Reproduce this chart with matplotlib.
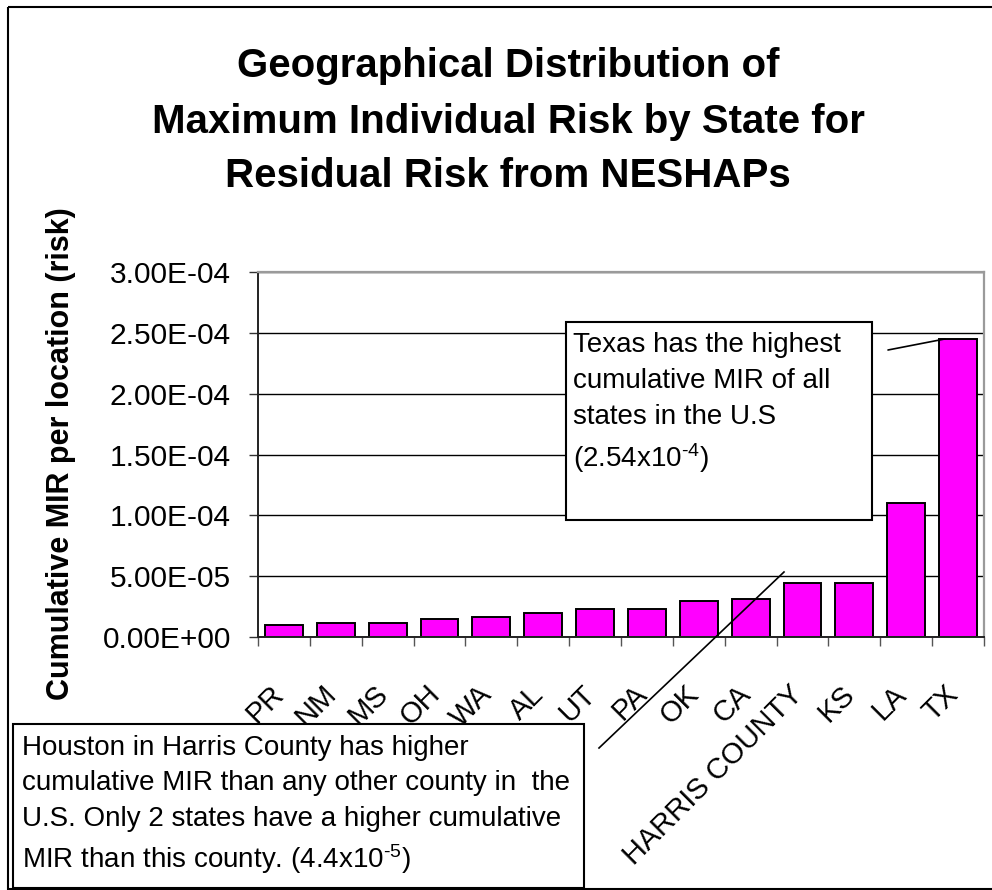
import numpy as np
import matplotlib
matplotlib.use('Agg')
import matplotlib.pyplot as plt
import matplotlib.transforms as mtransforms
from matplotlib.patches import Rectangle, ConnectionPatch
from matplotlib.lines import Line2D

# ---------------- data ----------------
categories = ['PR', 'NM', 'MS', 'OH', 'WA', 'AL', 'UT', 'PA', 'OK', 'CA',
              'HARRIS COUNTY', 'KS', 'LA', 'TX']
mir_values = [1.00e-5, 1.15e-5, 1.15e-5, 1.50e-5, 1.65e-5, 2.00e-5, 2.30e-5,
              2.30e-5, 2.95e-5, 3.10e-5, 4.40e-5, 4.40e-5, 1.10e-4, 2.45e-4]
y_ticks = [0.0, 5e-5, 1e-4, 1.5e-4, 2e-4, 2.5e-4, 3e-4]
title_lines = ['Geographical Distribution of',
               'Maximum Individual Risk by State for',
               'Residual Risk from NESHAPs']
y_label = 'Cumulative MIR per location (risk)'
texas_note = ['Texas has the highest', 'cumulative MIR of all',
              'states in the U.S', r'(2.54x10$^{\text{-4}}$)']
houston_note = ['Houston in Harris County has higher',
                'cumulative MIR than any other county in  the',
                'U.S. Only 2 states have a higher cumulative',
                r'MIR than this county. (4.4x10$^{\text{-5}}$)']

# ---------------- style ----------------
plt.rcParams['font.family'] = ['Liberation Sans', 'DejaVu Sans']
plt.rcParams['mathtext.fontset'] = 'custom'
plt.rcParams['mathtext.rm'] = 'Liberation Sans'
plt.rcParams['mathtext.it'] = 'Liberation Sans:italic'
plt.rcParams['mathtext.bf'] = 'Liberation Sans:bold'
plt.rcParams['mathtext.default'] = 'regular'

W, H = 992, 890
fig = plt.figure(figsize=(W / 100, H / 100), dpi=100)
fig.patch.set_facecolor('white')
# pixel coordinates measured from the top-left corner
px = mtransforms.Affine2D().scale(1.0 / W, -1.0 / H).translate(0, 1) + fig.transFigure

ax_l, ax_r, ax_t, ax_b = 258, 984, 272, 637
ax = fig.add_axes([ax_l / W, 1 - ax_b / H, (ax_r - ax_l) / W, (ax_b - ax_t) / H])

x = np.arange(len(categories))
ax.bar(x, mir_values, width=0.73, color='#FF00FF', edgecolor='black',
       linewidth=1.4, zorder=2)

ax.set_xlim(-0.5, len(categories) - 0.5)
ax.set_ylim(y_ticks[0], y_ticks[-1])
ax.set_yticks(y_ticks)
ax.set_yticklabels(['{:.2E}'.format(v) for v in y_ticks])
ax.tick_params(axis='y', direction='out', length=6.5, width=1.0,
               color='#333333', pad=13.0, labelsize=21.5)

ax.set_xticks(x)
ax.set_xticklabels(categories, rotation=45, ha='right', va='center',
                   rotation_mode='anchor', fontsize=21)
ax.tick_params(axis='x', which='major', length=0, pad=38)
ax.set_xticks(np.arange(-0.5, len(categories), 1.0), minor=True)
ax.tick_params(axis='x', which='minor', direction='out', length=6.5,
               width=1.0, color='#555555')
for lab in ax.get_xticklabels():
    lab.set_transform(lab.get_transform() +
                      mtransforms.ScaledTranslation(-0.04, 0, fig.dpi_scale_trans))

ax.set_axisbelow(True)
ax.yaxis.grid(True, color='black', linewidth=1.0)
ax.xaxis.grid(False)
for side in ['left', 'bottom']:
    ax.spines[side].set_color('#222222')
    ax.spines[side].set_linewidth(1.4)
for side in ['top', 'right']:
    ax.spines[side].set_color('#9a9a9a')
    ax.spines[side].set_linewidth(1.6)

# ---------------- title & axis label ----------------
for line, yb in zip(title_lines, [77, 133, 187]):
    fig.text(508, yb, line, transform=px, ha='center', va='baseline',
             fontsize=29, fontweight='bold')

fig.text(61, 454, y_label, transform=px, rotation=90, ha='center',
         va='center', fontsize=22, fontweight='bold')

# ---------------- outer frame ----------------
fig.add_artist(Rectangle((8, 7), 1000, 882, transform=px, fill=False,
                         edgecolor='black', linewidth=1.5, zorder=1))

# ---------------- Texas callout ----------------
fig.add_artist(Rectangle((566, 322), 306, 198, transform=px, facecolor='white',
                         edgecolor='black', linewidth=1.5, zorder=5))
for line, yb in zip(texas_note, [352, 388, 424, 467]):
    fig.text(573, yb, line, transform=px, ha='left', va='baseline',
             fontsize=20, zorder=6)
con = ConnectionPatch(xyA=(888, 350), coordsA=px,
                      xyB=(len(categories) - 1.25, mir_values[-1]),
                      coordsB=ax.transData, color='black', linewidth=1.2,
                      zorder=6)
fig.add_artist(con)

# ---------------- Houston callout ----------------
fig.add_artist(Rectangle((13, 724), 571, 164, transform=px, facecolor='white',
                         edgecolor='black', linewidth=1.5, zorder=5))
for line, yb in zip(houston_note, [755, 790, 826, 868]):
    fig.text(22, yb, line, transform=px, ha='left', va='baseline',
             fontsize=20, zorder=6)
fig.add_artist(Line2D([599, 784], [748, 572], transform=px, color='black',
                      linewidth=1.2, zorder=6))

fig.savefig('out.png', dpi=100)
